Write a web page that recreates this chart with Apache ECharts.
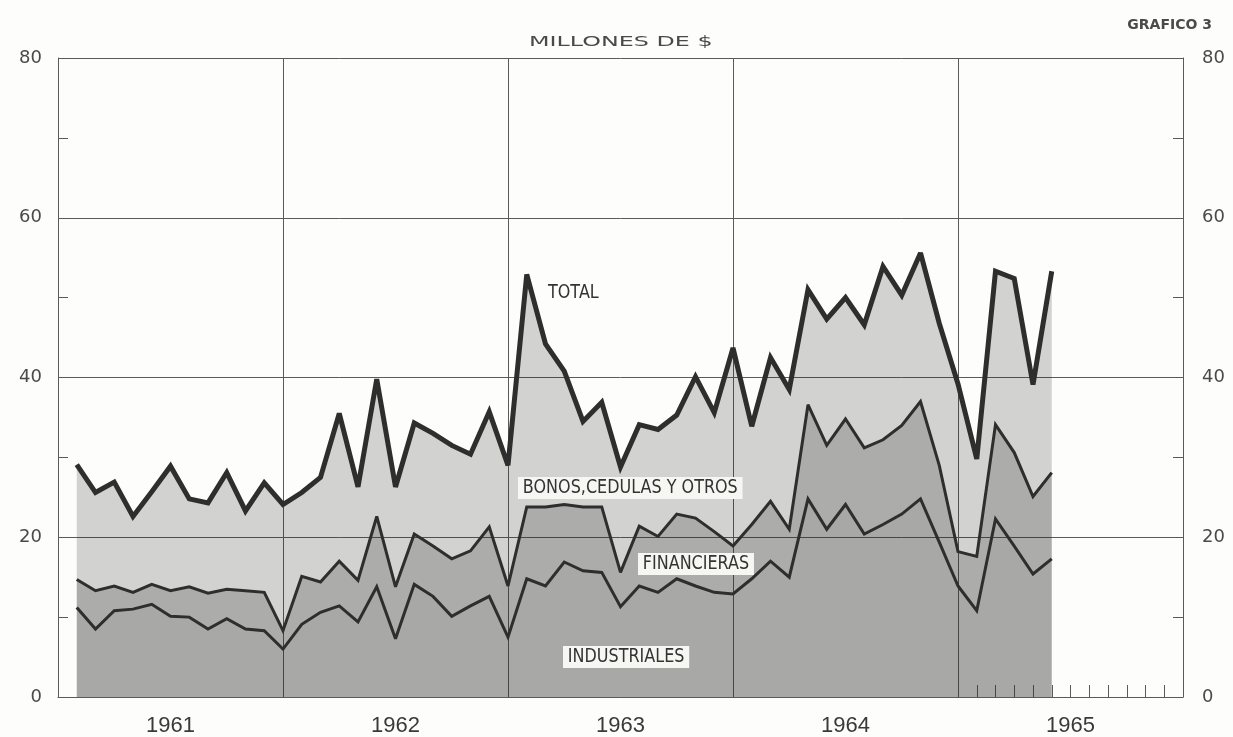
<!DOCTYPE html>
<html><head><meta charset="utf-8">
<script src="https://cdn.jsdelivr.net/npm/echarts@6/dist/echarts.min.js"></script>
<style>html,body{margin:0;padding:0;background:#fdfdfb}#c{width:1233px;height:737px}</style>
</head><body><div id="c"></div>
<script>
// ---- data (millones de $), monthly, Jan 1961 .. May 1965 ----
const years = ['1961', '1962', '1963', '1964', '1965'];
const months = [
  '1961-01','1961-02','1961-03','1961-04','1961-05','1961-06','1961-07','1961-08','1961-09','1961-10','1961-11','1961-12',
  '1962-01','1962-02','1962-03','1962-04','1962-05','1962-06','1962-07','1962-08','1962-09','1962-10','1962-11','1962-12',
  '1963-01','1963-02','1963-03','1963-04','1963-05','1963-06','1963-07','1963-08','1963-09','1963-10','1963-11','1963-12',
  '1964-01','1964-02','1964-03','1964-04','1964-05','1964-06','1964-07','1964-08','1964-09','1964-10','1964-11','1964-12',
  '1965-01','1965-02','1965-03','1965-04','1965-05'
];
const industriales = [11.2, 8.5, 10.8, 11.0, 11.6, 10.1, 10.0, 8.5, 9.8, 8.5,
  8.3, 6.0, 9.1, 10.6, 11.4, 9.4, 13.8, 7.3, 14.1, 12.6,
  10.1, 11.4, 12.6, 7.5, 14.8, 13.9, 16.9, 15.8, 15.6, 11.3,
  13.9, 13.1, 14.8, 13.9, 13.1, 12.9, 14.8, 17.0, 15.0, 24.8,
  21.0, 24.1, 20.4, 21.6, 22.9, 24.8, 19.4, 13.9, 10.8, 22.3,
  18.9, 15.4, 17.3];
const financieras = [3.5, 4.8, 3.1, 2.1, 2.5, 3.2, 3.8, 4.5, 3.7, 4.8,
  4.8, 2.3, 6.0, 3.8, 5.6, 5.2, 8.8, 6.5, 6.3, 6.3,
  7.2, 6.9, 8.7, 6.4, 9.0, 9.9, 7.2, 8.0, 8.2, 4.3,
  7.5, 7.0, 8.1, 8.5, 7.6, 6.0, 6.8, 7.5, 6.0, 11.8,
  10.5, 10.7, 10.8, 10.6, 11.1, 12.2, 9.6, 4.3, 6.8, 11.8,
  11.7, 9.7, 10.8];
const bonos = [14.4, 12.3, 13.0, 9.5, 11.6, 15.6, 11.0, 11.3, 14.6, 10.0,
  13.7, 15.8, 10.5, 13.1, 18.5, 11.7, 17.2, 12.5, 13.9, 14.1,
  14.2, 12.1, 14.4, 15.1, 29.1, 20.4, 16.7, 10.7, 13.1, 13.2,
  12.7, 13.4, 12.4, 17.7, 14.9, 24.8, 12.3, 18.0, 17.5, 14.4,
  15.8, 15.2, 15.4, 21.7, 16.3, 18.6, 17.8, 21.0, 12.2, 19.2,
  21.8, 14.0, 25.2];
const yTickLabels = ['0', '20', '40', '60', '80'];

// time axis: one point per month end, from the start of 1961 (index 0) to the end of 1965 (index 60)
const timeCats = ['1961-00'];
years.forEach(y => { for (let m = 1; m <= 12; m++) timeCats.push(y + '-' + String(m).padStart(2, '0')); });
function aligned(vals) {
  const out = timeCats.map(() => null);
  months.forEach((m, i) => { out[timeCats.indexOf(m)] = vals[i]; });
  return out;
}

const ink = '#2e2e2e';
const gridC = '#5a5a5a';
const labelFont = 'DejaVu Sans, sans-serif';

function areaSeries(name, vals, color) {
  return { name, type: 'line', stack: 'a', data: aligned(vals), symbol: 'none', connectNulls: false,
    lineStyle: { width: 0 }, areaStyle: { color, opacity: 1 }, z: 2, silent: true };
}
function lineSeries(name, vals, width) {
  return { name: name + '-l', type: 'line', stack: 'l', data: aligned(vals), symbol: 'none',
    lineStyle: { width, color: ink, join: 'miter', miterLimit: 3 }, z: 5, silent: true };
}
function note(text, x, y, boxed) {
  const style = { text, x: 0, y: 0, font: '20px "DejaVu Sans", sans-serif', fill: '#333',
    textAlign: 'left', textVerticalAlign: 'top' };
  if (boxed) { style.backgroundColor = '#f6f6f2'; style.padding = [1, 6, 1, 6]; }
  return { type: 'text', x, y, scaleX: 0.8, z: 10, silent: true, style };
}

const chart = echarts.init(document.getElementById('c'), null, { renderer: 'canvas' });
chart.setOption({
  animation: false,
  backgroundColor: '#fdfdfb',
  grid: { left: 58, right: 50, top: 58, bottom: 39 },
  title: [
    { text: 'GRAFICO 3', right: 16, top: 13,
      textStyle: { fontFamily: labelFont, fontSize: 14, fontWeight: 'bold', color: '#4a4a4a' } }
  ],
  xAxis: [
    { type: 'category', data: timeCats, boundaryGap: false, position: 'bottom',
      axisLine: { show: true, lineStyle: { color: gridC, width: 1 } },
      axisTick: { show: true, inside: true, length: 12, interval: (i) => i > 48 && i < 60,
        lineStyle: { color: gridC, width: 1 } },
      axisLabel: { show: false },
      splitLine: { show: true, interval: (i) => i % 12 === 0, lineStyle: { color: gridC, width: 1 } } },
    { type: 'category', data: years, boundaryGap: true, position: 'bottom',
      axisLine: { show: false }, axisTick: { show: false }, splitLine: { show: false },
      axisLabel: { show: true, margin: 18, fontFamily: '"Liberation Sans", sans-serif', fontSize: 22, color: '#3a3a3a' } }
  ],
  yAxis: [
    { type: 'value', min: 0, max: 80, interval: 20, position: 'left',
      axisLine: { show: true, lineStyle: { color: gridC, width: 1 } },
      axisTick: { show: true, inside: true, length: 10, lineStyle: { color: gridC } },
      minorTick: { show: true, splitNumber: 2, length: 10, lineStyle: { color: gridC, width: 1 } },
      axisLabel: { margin: 16, fontFamily: labelFont, fontSize: 18, color: '#4a4a4a',
        formatter: (v) => yTickLabels[v / 20] },
      splitLine: { show: true, lineStyle: { color: gridC, width: 1 } } },
    { type: 'value', min: 0, max: 80, interval: 20, position: 'right',
      axisLine: { show: true, lineStyle: { color: gridC, width: 1 } },
      axisTick: { show: true, inside: true, length: 10, lineStyle: { color: gridC } },
      minorTick: { show: true, splitNumber: 2, length: 10, lineStyle: { color: gridC, width: 1 } },
      axisLabel: { margin: 19, fontFamily: labelFont, fontSize: 18, color: '#4a4a4a',
        formatter: (v) => yTickLabels[v / 20] },
      splitLine: { show: false } }
  ],
  series: [
    areaSeries('Industriales', industriales, 'rgba(40,40,40,0.40)'),
    areaSeries('Financieras', financieras, 'rgba(40,40,40,0.38)'),
    areaSeries('Bonos, cédulas y otros', bonos, 'rgba(40,40,40,0.20)'),
    lineSeries('Industriales', industriales, 3),
    lineSeries('Financieras', financieras, 3),
    lineSeries('Total', bonos, 5)
  ],
  graphic: [
    { type: 'text', x: 529, y: 35, scaleX: 1.7, z: 10, silent: true,
      style: { text: 'MILLONES DE $', x: 0, y: 0, font: '14px "DejaVu Sans", sans-serif', fill: '#4a4a4a',
        textAlign: 'left', textVerticalAlign: 'top' } },
    note('TOTAL', 548, 283, false),
    note('BONOS,CEDULAS Y OTROS', 518, 477, true),
    note('FINANCIERAS', 638, 553, true),
    note('INDUSTRIALES', 563, 646, true)
  ]
});
</script>
</body></html>
